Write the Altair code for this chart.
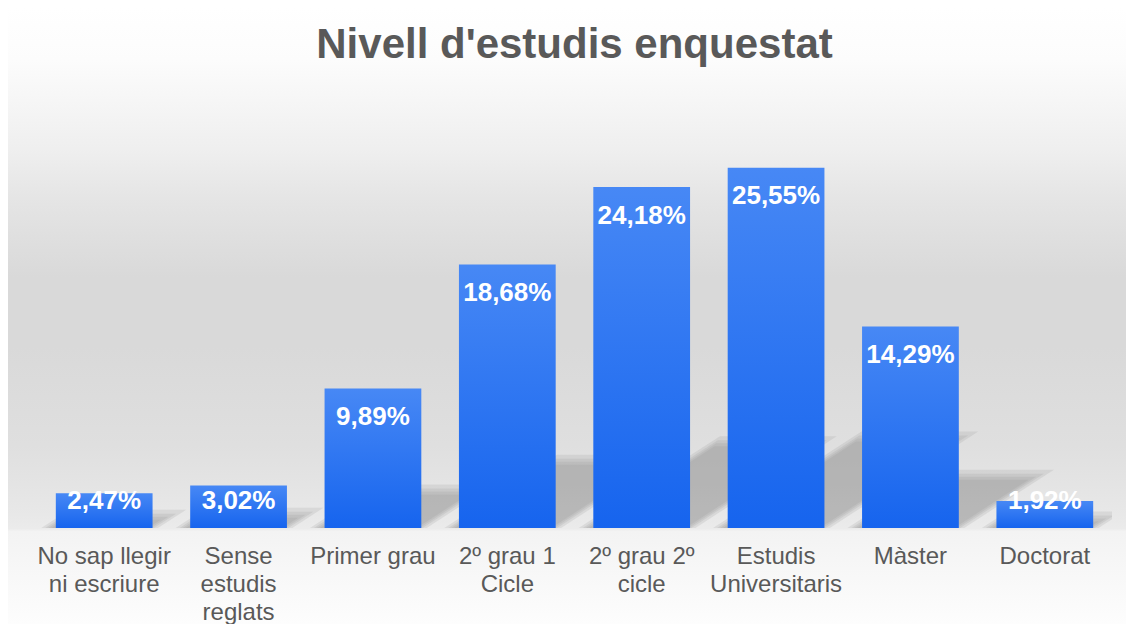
import altair as alt
import pandas as pd

# ---- data ----
categories = [
    "No sap llegir\nni escriure",
    "Sense\nestudis\nreglats",
    "Primer grau",
    "2º grau 1\nCicle",
    "2º grau 2º\ncicle",
    "Estudis\nUniversitaris",
    "Màster",
    "Doctorat",
]
values = [2.47, 3.02, 9.89, 18.68, 24.18, 25.55, 14.29, 1.92]
value_labels = ["2,47%", "3,02%", "9,89%", "18,68%", "24,18%", "25,55%", "14,29%", "1,92%"]
title_text = "Nivell d'estudis enquestat"

# ---- layout constants ----
W, H = 1075, 423
YMAX = 30
PAD_IN, PAD_OUT = 0.28, 0.14
N = len(categories)
step_px = W / N
ypx = H / YMAX

df = pd.DataFrame({"cat": categories, "value": values, "label": value_labels, "idx": list(range(N))})

# ---- perspective shadow geometry (derived from the values) ----
m_px = 0.65         # slope of the shadow band (px per px)
k = 0.24            # shadow height relative to bar height
c_px = 3            # lift of the band at the bar edge
mu = m_px * step_px / ypx   # slope in (y units) per (x band units)
bw = 1 - PAD_IN

def shadow_rows(d_px, layer):
    rows = []
    d = d_px / step_px
    for i, v in enumerate(values):
        x0 = i + PAD_OUT - d - (c_px / m_px) / step_px
        x1 = i + PAD_OUT + bw + d - (c_px / m_px) / step_px
        top = k * v + d_px / ypx
        span = top / mu
        xs = sorted({x0, x0 + span, x1, x1 + span})
        for x in xs:
            lo = min(max(mu * (x - x1), 0.0), top)
            hi = min(max(mu * (x - x0), 0.0), top)
            rows.append({"key": f"{layer}_{i}", "sx": x, "lo": lo, "hi": hi})
    return rows

rows = []
for j, dpx in enumerate([10, 6, 3, 0]):
    rows += shadow_rows(dpx, j)
shadow_df = pd.DataFrame(rows)

yscale = alt.Scale(domain=[0, YMAX], nice=False, zero=True)
xband = alt.Scale(paddingInner=PAD_IN, paddingOuter=PAD_OUT)

# ---- background gradient ----
bg = alt.Chart(pd.DataFrame({"a": [0]})).mark_rect(
    color=alt.Gradient(
        gradient="linear", x1=0, x2=0, y1=0, y2=1,
        stops=[
            alt.GradientStop(color="#ffffff", offset=0),
            alt.GradientStop(color="#fcfcfc", offset=0.084),
            alt.GradientStop(color="#efefef", offset=0.228),
            alt.GradientStop(color="#e5e5e5", offset=0.309),
            alt.GradientStop(color="#d9d9d9", offset=0.437),
            alt.GradientStop(color="#d9d9d9", offset=0.55),
            alt.GradientStop(color="#dfdfdf", offset=0.71),
            alt.GradientStop(color="#e8e8e8", offset=0.823),
            alt.GradientStop(color="#ebebeb", offset=0.845),
            alt.GradientStop(color="#f3f3f3", offset=0.85),
            alt.GradientStop(color="#fdfdfd", offset=1),
        ],
    )
).encode(
    x=alt.value(-29), x2=alt.value(W + 14), y=alt.value(-97), y2=alt.value(H + 96)
)

shadows = alt.Chart(shadow_df).mark_area(
    color="#8a8a8a", opacity=0.16, clip=True, interpolate="linear",
).encode(
    x=alt.X("sx:Q", scale=alt.Scale(domain=[0, N], nice=False, zero=False), axis=None),
    y=alt.Y("lo:Q", scale=yscale, axis=None, stack=None),
    y2="hi:Q",
    detail="key:N",
)

bars = alt.Chart(df).mark_bar(
    color=alt.Gradient(
        gradient="linear", x1=0, x2=0, y1=0, y2=1,
        stops=[
            alt.GradientStop(color="#4788f5", offset=0),
            alt.GradientStop(color="#1664ee", offset=1),
        ],
    )
).encode(
    x=alt.X(
        "cat:N", sort=None, scale=xband, title=None,
        axis=alt.Axis(
            labelAngle=0, labelFontSize=24, labelFont="Liberation Sans",
            labelColor="#595959", labelPadding=16, labelLineHeight=28,
            ticks=False, tickSize=0, domain=False, grid=False, labelLimit=0,
            labelExpr="split(datum.value, '\\n')", zindex=1,
        ),
    ),
    y=alt.Y("value:Q", scale=yscale, axis=None),
)

labels = alt.Chart(df).transform_calculate(
    labelY="max(datum.value - 2.02, 1.915)"
).mark_text(
    color="white", fontSize=26, fontWeight="bold", font="Liberation Sans", baseline="middle"
).encode(
    x=alt.X("cat:N", sort=None, scale=xband, axis=None),
    y=alt.Y("labelY:Q", scale=yscale, axis=None),
    text="label:N",
)

title = alt.Chart(pd.DataFrame({"t": [title_text]})).mark_text(
    fontSize=42, fontWeight="bold", font="Liberation Sans", color="#595959",
    baseline="alphabetic", align="center",
).encode(text="t:N", x=alt.value(W / 2), y=alt.value(-47))

chart = alt.layer(bg, shadows, bars, labels, title).resolve_scale(
    x="independent"
).properties(
    width=W, height=H,
    autosize=alt.AutoSizeParams(type="none"),
    padding={"left": 29, "top": 97, "right": 14, "bottom": 96},
).configure_view(stroke=None)

chart.save("out.html", embed_options={"renderer": "svg", "actions": False})
